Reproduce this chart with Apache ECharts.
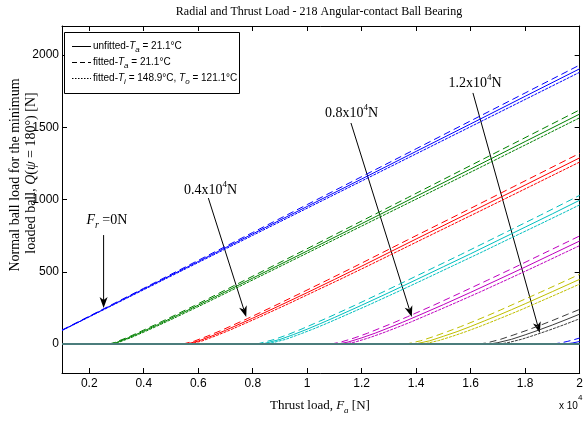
<!DOCTYPE html>
<html>
<head>
<meta charset="utf-8">
<script src="https://cdn.jsdelivr.net/npm/echarts@6/dist/echarts.min.js"></script>
<style>
html,body{margin:0;padding:0;background:#fff;}
#chart{width:586px;height:421px;}
</style>
</head>
<body>
<div id="chart"></div>
<script>
// ---------------- data ----------------
// Thrust load Fa [N] , ball load Q(psi=180deg) [N]
const radialLoads = [0, 2000, 4000, 6000, 8000, 10000, 12000, 14000];

const fr00_fittedTa  = [[1000,97],[2000,193],[4000,386],[6000,579],[8000,772],[10000,965],[12000,1158],[14000,1351],[16000,1544],[18000,1737],[20000,1930]];
const fr00_unfitted  = [[1000,95],[2000,190],[4000,381],[6000,571],[8000,762],[10000,952],[12000,1142],[14000,1333],[16000,1523],[18000,1714],[20000,1904]];
const fr00_fittedHot = [[1000,94],[2000,188],[4000,376],[6000,564],[8000,752],[10000,940],[12000,1128],[14000,1316],[16000,1504],[18000,1692],[20000,1880]];

const fr02_fittedTa  = [[2716,0],[2931,11],[3420,47],[3908,89],[4397,132],[4885,176],[5862,266],[7816,452],[9770,638],[11724,825],[13679,1012],[15633,1200],[17587,1388],[19541,1576],[20000,1620]];
const fr02_unfitted  = [[2780,0],[3000,11],[3500,48],[4000,90],[4500,133],[5000,178],[6000,269],[8000,456],[10000,644],[12000,833],[14000,1022],[16000,1211],[18000,1401],[20000,1591]];
const fr02_fittedHot = [[2841,0],[3066,11],[3577,48],[4088,90],[4599,134],[5110,179],[6132,271],[8176,460],[10220,650],[12264,841],[14308,1031],[16352,1222],[18395,1414],[20000,1565]];

const fr04_fittedTa  = [[5432,0],[5862,21],[6351,56],[6839,94],[7816,177],[8793,264],[9770,353],[10747,443],[11724,534],[13679,720],[15633,904],[17587,1090],[19541,1276],[20000,1319]];
const fr04_unfitted  = [[5560,0],[6000,21],[6500,56],[7000,95],[8000,179],[9000,267],[10000,356],[11000,447],[12000,539],[14000,727],[16000,913],[18000,1100],[20000,1288]];
const fr04_fittedHot = [[5682,0],[6132,21],[6643,57],[7154,96],[8176,181],[9198,269],[10220,360],[11242,451],[12264,544],[14308,733],[16352,921],[18395,1110],[20000,1259]];

const fr06_fittedTa  = [[8149,0],[8793,32],[9282,65],[9770,102],[10259,142],[10747,182],[11724,266],[12702,353],[13679,441],[14656,530],[15633,619],[16610,710],[17587,801],[18564,892],[19541,985],[20000,1029]];
const fr06_unfitted  = [[8340,0],[9000,32],[9500,66],[10000,103],[10500,143],[11000,184],[12000,269],[13000,356],[14000,445],[15000,535],[16000,625],[17000,717],[18000,809],[19000,901],[20000,995]];
const fr06_fittedHot = [[8523,0],[9198,32],[9709,67],[10220,104],[10731,144],[11242,186],[12264,271],[13286,359],[14308,449],[15330,540],[16352,631],[17373,724],[18395,816],[19417,909],[20000,963]];

const fr08_fittedTa  = [[10865,0],[11236,14],[11724,42],[12213,75],[12702,112],[13190,149],[13679,189],[14656,270],[15633,355],[16610,441],[17587,528],[18564,617],[19541,706],[20000,748]];
const fr08_unfitted  = [[11120,0],[11500,14],[12000,43],[12500,76],[13000,113],[13500,151],[14000,191],[15000,273],[16000,358],[17000,445],[18000,533],[19000,623],[20000,713]];
const fr08_fittedHot = [[11364,0],[11753,14],[12264,43],[12775,77],[13286,114],[13797,152],[14308,193],[15330,276],[16352,361],[17373,449],[18395,538],[19417,629],[20000,681]];

const fr10_fittedTa  = [[13581,0],[13679,2],[14167,23],[14656,53],[15144,86],[15633,121],[16121,158],[16610,196],[17098,236],[17587,277],[18564,359],[19541,443],[20000,483]];
const fr10_unfitted  = [[13900,0],[14000,2],[14500,23],[15000,54],[15500,86],[16000,122],[16500,160],[17000,198],[17500,238],[18000,279],[19000,363],[20000,448]];
const fr10_fittedHot = [[14205,0],[14308,2],[14819,24],[15330,54],[15841,87],[16352,123],[16863,161],[17373,200],[17884,240],[18395,282],[19417,366],[20000,415]];

const fr12_fittedTa  = [[16297,0],[16610,9],[17098,33],[17587,64],[18075,96],[18564,131],[19052,167],[19541,205],[20000,240]];
const fr12_unfitted  = [[16680,0],[17000,10],[17500,33],[18000,64],[18500,97],[19000,132],[19500,169],[20000,207]];
const fr12_fittedHot = [[17046,0],[17373,10],[17884,34],[18395,65],[18906,98],[19417,133],[19928,170],[20000,176]];

const fr14_fittedTa  = [[19013,0],[19297,8],[19541,18],[19770,29],[20000,42]];
const fr14_unfitted  = [[19460,0],[19750,8],[20000,18]];
const fr14_fittedHot = [[19888,0],[20000,2]];

const curvesFittedTa  = [fr00_fittedTa, fr02_fittedTa, fr04_fittedTa, fr06_fittedTa, fr08_fittedTa, fr10_fittedTa, fr12_fittedTa, fr14_fittedTa];
const curvesUnfitted  = [fr00_unfitted, fr02_unfitted, fr04_unfitted, fr06_unfitted, fr08_unfitted, fr10_unfitted, fr12_unfitted, fr14_unfitted];
const curvesFittedHot = [fr00_fittedHot, fr02_fittedHot, fr04_fittedHot, fr06_fittedHot, fr08_fittedHot, fr10_fittedHot, fr12_fittedHot, fr14_fittedHot];

// region where Q(180deg) = 0 (no load on the minimum loaded ball)
const zeroLoadFa = [1000, 20000];
const zeroLoadQ  = [0, 0];

const xTickValues = [2000, 4000, 6000, 8000, 10000, 12000, 14000, 16000, 18000, 20000];
const xTickLabels = ['0.2', '0.4', '0.6', '0.8', '1', '1.2', '1.4', '1.6', '1.8', '2'];
const yTickValues = [0, 500, 1000, 1500, 2000];
const yTickLabels = ['0', '500', '1000', '1500', '2000'];

// annotations, anchored in data coordinates [Fa, Q]
const annotationLabels = ['Fr', '0.4', '0.8', '1.2'];
const annotationTextAt = [[2647, 858], [6455, 1066], [11631, 1596], [16156, 1804]];
const arrowTail = [[2527, 754], [6371, 1010], [11606, 1529], [16083, 1737]];
const arrowTip  = [[2527, 250], [7762, 187], [13839, 187], [18536, 77]];

// ---------------- styles ----------------
const colorCycle = ['#0000ff', '#008000', '#ff0000', '#00bfbf', '#bf00bf', '#bfbf00', '#3a3a3a', '#0000ff'];
const SERIF = "'Liberation Serif','Times New Roman',serif";
const SANS = "'Liberation Sans',Arial,sans-serif";
const NARROW = "'Liberation Sans Narrow','Liberation Sans',Arial,sans-serif";

const series = [];
radialLoads.forEach((fr, i) => {
  const c = colorCycle[i];
  series.push({ name: 'fitted-Ta Fr=' + fr, type: 'line', data: curvesFittedTa[i], showSymbol: false, clip: true,
    lineStyle: { color: c, width: 1, type: [7, 4] }, itemStyle: { color: c }, silent: true });
  series.push({ name: 'unfitted-Ta Fr=' + fr, type: 'line', data: curvesUnfitted[i], showSymbol: false, clip: true,
    lineStyle: { color: c, width: 1, type: 'solid' }, itemStyle: { color: c }, silent: true });
  series.push({ name: 'fitted-hot Fr=' + fr, type: 'line', data: curvesFittedHot[i], showSymbol: false, clip: true,
    lineStyle: { color: c, width: 1, type: [3, 1] }, itemStyle: { color: c }, silent: true });
});
series.push({ name: 'zero load', type: 'line', z: 3, data: zeroLoadFa.map((f, k) => [f, zeroLoadQ[k]]), showSymbol: false,
  lineStyle: { color: '#4b7d7c', width: 2 }, silent: true });

const axisCommon = {
  axisLine: { show: true, onZero: false, lineStyle: { color: '#000', width: 1 } },
  splitLine: { show: false }
};

const option = {
  animation: false,
  backgroundColor: '#fff',
  grid: { left: 62, right: 5, top: 26, bottom: 48, containLabel: false },
  xAxis: [
    Object.assign({}, axisCommon, {
      type: 'value', min: 1000, max: 20000, position: 'bottom',
      axisTick: { show: true, inside: true, length: 5, customValues: xTickValues, lineStyle: { color: '#000' } },
      axisLabel: { show: true, customValues: xTickValues, margin: 5, color: '#000', fontSize: 12, fontFamily: NARROW,
        formatter: v => xTickLabels[xTickValues.indexOf(v)] }
    }),
    Object.assign({}, axisCommon, {
      type: 'value', min: 1000, max: 20000, position: 'top',
      axisTick: { show: true, inside: true, length: 5, customValues: xTickValues, lineStyle: { color: '#000' } },
      axisLabel: { show: false }
    })
  ],
  yAxis: [
    Object.assign({}, axisCommon, {
      type: 'value', min: -200, max: 2200, position: 'left',
      axisTick: { show: true, inside: true, length: 5, customValues: yTickValues, lineStyle: { color: '#000' } },
      axisLabel: { show: true, customValues: yTickValues, margin: 3, color: '#000', fontSize: 12, fontFamily: NARROW,
        formatter: v => yTickLabels[yTickValues.indexOf(v)] }
    }),
    Object.assign({}, axisCommon, {
      type: 'value', min: -200, max: 2200, position: 'right',
      axisTick: { show: true, inside: true, length: 5, customValues: yTickValues, lineStyle: { color: '#000' } },
      axisLabel: { show: false }
    })
  ],
  series: series
};

const chart = echarts.init(document.getElementById('chart'), null, { renderer: 'canvas' });
chart.setOption(option);

const toPx = p => chart.convertToPixel({ seriesIndex: 1 }, p);

function arrow(tailData, tipData) {
  const a = toPx(tailData), b = toPx(tipData);
  const dx = b[0] - a[0], dy = b[1] - a[1];
  const len = Math.hypot(dx, dy), ux = dx / len, uy = dy / len;
  const L = 11, W = 4, nx = -uy, ny = ux;
  const bx = b[0] - ux * L, by = b[1] - uy * L;
  const notch = [b[0] - ux * L * 0.72, b[1] - uy * L * 0.72];
  return [
    { type: 'line', silent: true, shape: { x1: a[0], y1: a[1], x2: notch[0], y2: notch[1] }, style: { stroke: '#000', lineWidth: 1 } },
    { type: 'polygon', silent: true, shape: { points: [[b[0], b[1]], [bx + nx * W, by + ny * W], notch, [bx - nx * W, by - ny * W]] }, style: { fill: '#000' } }
  ];
}

function richText(x, y, text, rich, opts) {
  opts = opts || {};
  return Object.assign({
    type: 'text', x: x, y: y, silent: true,
    style: { text: text, rich: rich, fill: '#000', align: opts.align || 'center', verticalAlign: 'middle',
      textAlign: opts.align || 'center', textVerticalAlign: 'middle', font: opts.font || ('12px ' + SERIF) }
  }, opts.rotation ? { rotation: opts.rotation } : {});
}

const annRich = {
  m: { fontFamily: SERIF, fontSize: 14, lineHeight: 20, verticalAlign: 'middle' },
  mi: { fontFamily: SERIF, fontSize: 14, fontStyle: 'italic', lineHeight: 20, verticalAlign: 'middle' },
  p: { fontFamily: SERIF, fontSize: 9, lineHeight: 9, verticalAlign: 'top' },
  s: { fontFamily: SERIF, fontSize: 10, fontStyle: 'italic', lineHeight: 10, verticalAlign: 'bottom' }
};
const annStrings = {
  'Fr': '{mi|F}{s|r}{m| =0N}',
  '0.4': '{m|0.4x10}{p|4}{m|N}',
  '0.8': '{m|0.8x10}{p|4}{m|N}',
  '1.2': '{m|1.2x10}{p|4}{m|N}'
};

const graphics = [];
annotationLabels.forEach((key, k) => {
  const p = toPx(annotationTextAt[k]);
  graphics.push(richText(p[0], p[1], annStrings[key], annRich));
  arrow(arrowTail[k], arrowTip[k]).forEach(g => graphics.push(g));
});

// title
graphics.push({ type: 'text', x: 319, y: 12, silent: true,
  style: { text: 'Radial and Thrust Load - 218 Angular-contact Ball Bearing', font: '12px ' + SERIF, fill: '#000',
    align: 'center', verticalAlign: 'middle', textAlign: 'center', textVerticalAlign: 'middle' } });

// x axis title
const xRich = {
  m: { fontFamily: SERIF, fontSize: 13, lineHeight: 18, verticalAlign: 'middle' },
  i: { fontFamily: SERIF, fontSize: 13, fontStyle: 'italic', lineHeight: 18, verticalAlign: 'middle' },
  s: { fontFamily: SERIF, fontSize: 9, fontStyle: 'italic', lineHeight: 9, verticalAlign: 'bottom' }
};
graphics.push(richText(320, 406, '{m|Thrust load, }{i|F}{s|a}{m| [N]}', xRich));

// x 10^4 multiplier
graphics.push({ type: 'text', x: 559, y: 406, silent: true,
  style: { text: 'x 10', font: '10px ' + SANS, fill: '#000', align: 'left', verticalAlign: 'middle', textAlign: 'left', textVerticalAlign: 'middle' } });
graphics.push({ type: 'text', x: 578, y: 398, silent: true,
  style: { text: '4', font: '8px ' + SANS, fill: '#000', align: 'left', verticalAlign: 'middle', textAlign: 'left', textVerticalAlign: 'middle' } });

// y axis title (two lines, rotated)
const yRich = {
  m: { fontFamily: SERIF, fontSize: 14, lineHeight: 16, verticalAlign: 'middle' },
  i: { fontFamily: SERIF, fontSize: 14, fontStyle: 'italic', lineHeight: 16, verticalAlign: 'middle' }
};
graphics.push(richText(15, 175, '{m|Normal ball load for the minimum}', yRich, { rotation: Math.PI / 2 }));
graphics.push(richText(31, 173, '{m|loaded ball, }{i|Q}{m|(}{i|ψ}{m| = 180°) [N]}', yRich, { rotation: Math.PI / 2 }));

// legend box
const legX = 64, legY = 32, legW = 175, legH = 61;
graphics.push({ type: 'rect', silent: true, shape: { x: legX + 0.5, y: legY + 0.5, width: legW, height: legH },
  style: { fill: '#fff', stroke: '#000', lineWidth: 1 }, z: 10 });
const legRows = [46, 62, 78];
const legDash = ['solid', [5, 3], [1.5, 1.5]];
const legRich = {
  n: { fontFamily: SANS, fontSize: 10, lineHeight: 16, verticalAlign: 'middle' },
  i: { fontFamily: SANS, fontSize: 10, fontStyle: 'italic', lineHeight: 16, verticalAlign: 'middle' },
  s: { fontFamily: SANS, fontSize: 8, fontStyle: 'italic', lineHeight: 8, verticalAlign: 'bottom' }
};
const legTexts = [
  '{n|unfitted-}{i|T}{s|a}{n| = 21.1°C}',
  '{n|fitted-}{i|T}{s|a}{n| = 21.1°C}',
  '{n|fitted-}{i|T}{s|i}{n| = 148.9°C, }{i|T}{s|o}{n| = 121.1°C}'
];
legRows.forEach((ry, k) => {
  graphics.push({ type: 'line', silent: true, z: 11, shape: { x1: 72, y1: ry + 0.5, x2: 91, y2: ry + 0.5 },
    style: { stroke: '#000', lineWidth: 1, lineDash: legDash[k] === 'solid' ? null : legDash[k] } });
  const t = richText(93, ry, legTexts[k], legRich, { align: 'left' });
  t.z = 11;
  graphics.push(t);
});

chart.setOption({ graphic: { elements: graphics } });
</script>
</body>
</html>
